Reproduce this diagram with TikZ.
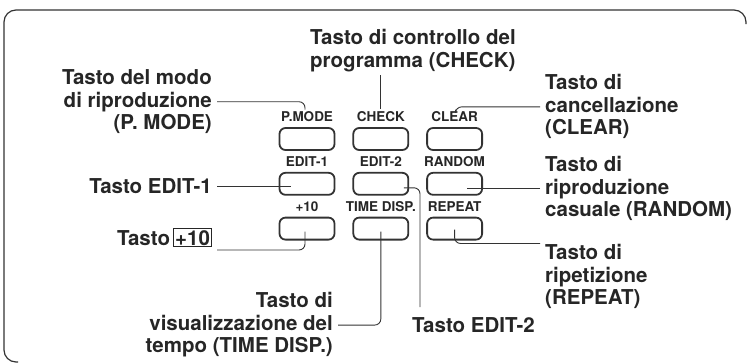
\documentclass[tikz,border=0pt]{standalone}
\usepackage{fontspec}
\setmainfont{TeX Gyre Heros}
\usetikzlibrary{positioning}

\begin{document}
\begin{tikzpicture}[
  x=1pt,y=-1pt,
  every node/.style={text=black!85},
  btn/.style={draw=black!80,line width=1.8pt,rounded corners=6pt,minimum width=55pt,minimum height=22pt,inner sep=0pt},
  keylabel/.style={font=\fontsize{13.5}{14}\selectfont\bfseries,inner sep=0pt},
  callout/.style={font=\fontsize{20.5}{22.5}\selectfont\bfseries,inner sep=0pt},
  lead/.style={draw=black!80,line width=0.9pt,rounded corners=6pt},
  panel/.style={draw=black!80,line width=1.2pt,rounded corners=12pt}
]
\useasboundingbox (0,0) rectangle (747,364);
\draw[panel] (746,24) |- (4,10) |- (18,362);

% keys
\node[btn] (kPmode) at (307,139) {};
\node[btn,right=17pt of kPmode] (kCheck) {};
\node[btn,right=17pt of kCheck] (kClear) {};
\node[btn,below=21pt of kPmode] (kEditA) {};
\node[btn,right=17pt of kEditA] (kEditB) {};
\node[btn,right=17pt of kEditB] (kRandom) {};
\node[btn,below=21pt of kEditA] (kPlus) {};
\node[btn,right=17pt of kPlus] (kTime) {};
\node[btn,right=17pt of kTime] (kRepeat) {};

\node[keylabel,above=5pt of kPmode] (lPmode) {P.MODE};
\node[keylabel,above=5pt of kCheck] (lCheck) {CHECK};
\node[keylabel,above=5pt of kClear] (lClear) {CLEAR};
\node[keylabel,above=5pt of kEditA] (lEditA) {EDIT-1};
\node[keylabel,above=5pt of kEditB] (lEditB) {EDIT-2};
\node[keylabel,above=5pt of kRandom] (lRandom) {RANDOM};
\node[keylabel,above=5pt of kPlus] (lPlus) {+10};
\node[keylabel,above=5pt of kTime] (lTime) {TIME DISP.};
\node[keylabel,above=5pt of kRepeat] (lRepeat) {REPEAT};

% callouts
\node[callout,align=left,anchor=north west] (cCheck) at (310,29.5) {Tasto di controllo del\\programma (CHECK)};
\node[callout,align=right,anchor=north east] (cPmode) at (212,69.5) {Tasto del modo\\di riproduzione\\(P. MODE)};
\node[callout,align=left,anchor=north west] (cClear) at (545,74.5) {Tasto di\\cancellazione\\(CLEAR)};
\node[callout,anchor=east] (cEditA) at (212,186) {Tasto EDIT-1};
\node[callout,align=left,anchor=north west] (cRandom) at (545,156.5) {Tasto di\\riproduzione\\casuale (RANDOM)};
\node[callout,anchor=base east] (cPlus) at (212,245) {Tasto\,{\fboxsep=1pt\fboxrule=0.8pt\fbox{+10}}};
\node[callout,align=left,anchor=north west] (cRepeat) at (545,244.5) {Tasto di\\ripetizione\\(REPEAT)};
\node[callout,align=right,anchor=north east] (cTime) at (333,292.5) {Tasto di\\visualizzazione del\\tempo (TIME DISP.)};
\node[callout,anchor=west] (cEditB) at (412,325) {Tasto EDIT-2};

% leaders
\draw[lead] ([yshift=-3pt]lCheck.north |- cCheck.south) -- ([yshift=3pt]lCheck.north);
\draw[lead] ([xshift=5pt]cPmode.east) -| ([xshift=-2pt,yshift=2pt]lPmode.north);
\draw[lead] ([xshift=-5pt]cClear.west) -| ([xshift=1pt,yshift=2pt]lClear.north);
\draw[lead] ([xshift=5pt]cEditA.east) -- ([xshift=12pt]kEditA.west |- cEditA.east);
\draw[lead] ([xshift=-5pt]cRandom.west) -- ([xshift=12pt]kRandom.center |- cRandom.west);
\draw[lead] ([xshift=5pt,yshift=-5pt]cPlus.base east) -| ([xshift=-2pt,yshift=-3pt]kPlus.center);
\draw[lead] ([xshift=5pt]cTime.east) -| ([yshift=-3pt]kTime.center);
\draw[lead] ([yshift=-1pt]kRepeat.center) |- ([xshift=-5pt,yshift=1pt]cRepeat.north west);
\draw[lead] ([xshift=23pt,yshift=-4pt]kEditB.center) -| ([xshift=8pt,yshift=10pt]cEditB.north west);
\end{tikzpicture}
\end{document}
